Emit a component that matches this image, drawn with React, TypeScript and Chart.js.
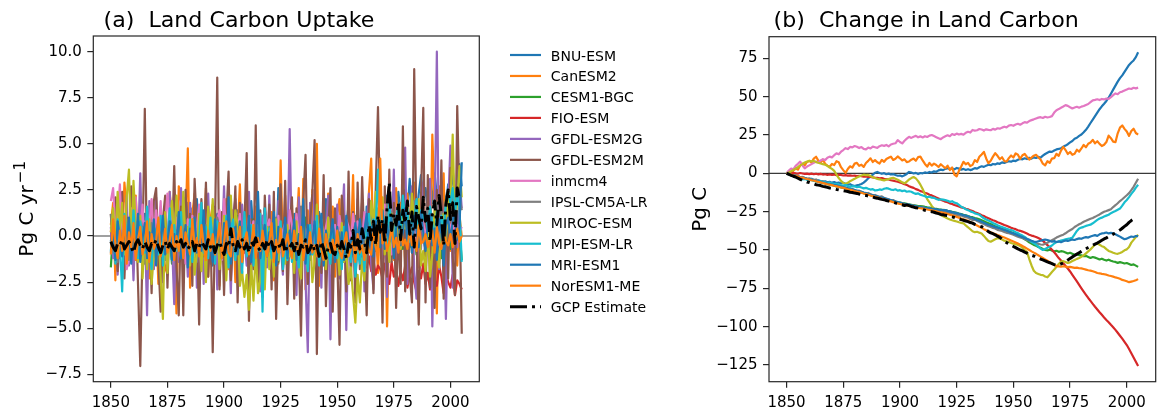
import React, { useEffect, useRef } from "react";
import { Chart, registerables } from "chart.js";

Chart.register(...registerables);

const FONT = '"DejaVu Sans", sans-serif';
const START_YEAR = 1850;

const MODEL_NAMES = [
  "BNU-ESM", "CanESM2", "CESM1-BGC", "FIO-ESM", "GFDL-ESM2G", "GFDL-ESM2M", "inmcm4",
  "IPSL-CM5A-LR", "MIROC-ESM", "MPI-ESM-LR", "MRI-ESM1", "NorESM1-ME", "GCP Estimate",
];
const COLORS = [
  "#1f77b4", "#ff7f0e", "#2ca02c", "#d62728", "#9467bd", "#8c564b", "#e377c2",
  "#7f7f7f", "#bcbd22", "#17becf", "#1f77b4", "#ff7f0e", "#000000",
];

const X_TICKS = [1850, 1875, 1900, 1925, 1950, 1975, 2000];
const UPTAKE_TICKS = [-7.5, -5, -2.5, 0, 2.5, 5, 7.5, 10];
const CHANGE_TICKS = [-125, -100, -75, -50, -25, 0, 25, 50, 75];

// ---------- Panel (a): Land carbon uptake (Pg C / yr), annual from 1850 ----------
const UPTAKE_BNU_ESM = [
  -0.3, 0.8, -1.2, 0.4, -0.6, 1.1, -0.9, -0.2, -1.4, 0.5,
  0.9, -1.3, -0.1, 0.6, -1.0, 1.2, -0.7, 0.3, -1.5, 0.2,
  -0.8, 0.6, -0.9, -1.1, 0.4, -0.5, 0.9, -1.3, -0.9, 0.1,
  1.4, -0.3, 2.1, 0.6, 1.8, -0.2, 1.5, 0.9, 2.0, -0.4,
  0.3, -1.2, 1.0, -0.5, 0.8, -1.6, 0.4, 1.2, -0.9, 0.1,
  -1.1, 1.6, -0.3, 0.9, -0.6, 0.2, 1.4, -1.3, 0.5, -0.2,
  0.8, -0.9, 1.9, 0.1, -1.0, 1.3, -0.4, 0.6, 1.5, -0.3,
  1.1, -0.7, 0.5, -1.2, 2.6, 0.3, -0.8, 0.9, -1.4, 0.4,
  -0.5, 1.2, -1.1, 0.7, 1.6, -0.8, 0.2, 1.0, -1.3, 1.9,
  0.6, -0.4, 1.3, 0.1, -0.9, 2.0, 0.5, -0.6, 0.9, 1.4,
  -0.2, 0.8, 1.5, -1.0, 0.4, 1.7, -0.5, 0.3, 1.1, -0.8,
  0.9, 0.2, -1.1, 1.6, 0.7, 1.9, -0.3, 1.2, 0.5, 0.8,
  1.4, 0.3, 2.2, -0.4, 1.0, 1.8, 0.6, 2.4, 1.1, 1.7,
  2.5, 1.2, 3.1, 1.6, 2.8, 0.9, 2.3, 3.3, 1.9, 2.6,
  1.5, 2.9, 1.8, 3.4, 2.2, 1.3, 3.0, 2.5, 1.7, 2.8,
  2.1, 3.6, 2.0, 2.9, 3.9, 2.7,
];
const UPTAKE_CANESM2 = [
  0.6, 1.8, -2.4, 2.1, 0.9, -0.7, 2.9, 1.4, -1.1, 1.6,
  0.4, 2.2, -0.5, 1.3, -1.8, -0.9, 0.7, -2.3, 1.1, -1.2,
  0.8, -2.6, 1.5, -0.9, -1.7, -2.1, 2.4, 1.0, -0.6, -4.2,
  2.7, 1.9, -1.3, 0.6, 4.75, -2.8, 1.2, 2.3, -1.9, -0.4,
  1.5, -0.8, 2.6, -2.2, 0.9, 1.7, -1.5, 0.3, -2.7, 1.1,
  -0.6, 2.0, -1.8, 0.7, 1.4, -2.5, 0.2, 2.8, -1.2, -0.3,
  1.9, -2.9, 0.5, -0.9, 1.6, -1.4, 0.8, -0.2, -1.7, 0.4,
  -0.9, 1.3, -2.4, 0.6, -1.5, 4.1, -0.8, 2.2, -1.9, 0.5,
  1.7, -1.2, 0.3, 2.6, -2.0, 3.1, -2.9, 1.4, -0.7, 2.5,
  -1.6, 5.0, -2.7, 1.1, -0.4, -1.9, 2.3, -0.8, 1.6, -2.2,
  1.2, 2.0, -1.3, 0.4, -2.1, 1.5, -0.6, 3.3, -1.8, 0.7,
  -0.3, 1.9, -2.5, -0.9, 2.4, 4.2, -1.1, 0.6, -2.0, 1.3,
  -0.5, 2.1, -4.9, 1.4, 0.2, -1.3, 2.6, -0.7, 1.8, 0.9,
  -1.4, 2.3, 0.5, -0.9, 2.9, 1.2, -1.7, 1.0, 2.4, -0.8,
  0.6, -1.5, 5.5, 1.8, -4.2, 2.7, 0.3, 3.4, -2.1, 1.9,
  -0.8, 2.2, 0.4, -1.6, 1.1, 0.0,
];
const UPTAKE_CESM1_BGC = [
  -1.7, 0.3, -0.9, 0.6, -1.2, -0.1, 0.8, -1.0, -0.4, 0.2,
  -0.8, 0.9, -1.3, -0.2, 0.4, -1.1, 0.7, -0.6, -1.4, 0.3,
  0.5, -0.9, -0.3, -1.2, 0.8, -0.7, 0.1, -1.5, 0.4, -0.5,
  -0.2, 1.0, -1.1, -0.4, 0.6, -1.3, -0.1, 0.9, -0.8, -0.6,
  0.7, -1.4, 0.2, -0.5, -1.0, 0.8, -0.3, -1.2, 0.5, -0.7,
  -0.4, 0.6, -1.5, 0.1, -0.8, -0.2, 1.1, -1.0, -0.6, 0.3,
  -1.2, 0.4, -0.7, 0.9, -1.3, -0.1, 0.5, -0.9, -0.4, 0.2,
  -0.6, -1.1, 0.8, -0.3, -1.4, 0.6, -0.5, 0.2, -1.0, -0.2,
  0.9, -0.8, -0.4, -1.2, 0.3, -0.6, 1.0, -1.5, -0.1, -0.7,
  -0.3, 0.5, -1.1, -0.8, 0.7, -1.3, -0.2, 0.4, -0.9, -0.5,
  -1.0, 0.2, -0.6, -1.4, 0.6, -0.3, -1.2, 0.1, -0.7, -0.9,
  0.4, -1.1, -0.5, -1.3, 0.8, -0.4, 0.3, -0.8, 0.2, -0.6,
  -0.2, 0.5, -0.9, 0.7, -0.4, -1.1, 0.6, -0.3, 0.2, -0.7,
  -0.5, 0.8, -0.6, -0.2, 0.4, -1.0, 0.3, -0.4, 0.1, -0.8,
  0.6, -0.3, -0.9, 0.2, -0.5, 0.7, -1.2, 0.3, -0.6, 0.4,
  -0.7, 0.5, -0.9, -0.2, 0.3, -1.3,
];
const UPTAKE_FIO_ESM = [
  0.3, -0.6, 0.8, -0.2, 0.5, -0.9, 0.4, 0.1, -0.5, 0.2,
  -0.3, 0.7, -0.8, 0.4, 0.0, -0.6, 0.9, -0.4, 0.2, -0.5,
  0.6, -0.2, -0.7, 0.3, 0.5, -0.9, 0.1, 0.4, -0.6, 0.2,
  -0.4, 0.5, -0.8, 0.2, -0.3, 0.6, -0.9, 0.1, -0.2, -0.7,
  -0.5, -1.1, 0.2, -0.8, -0.3, -1.2, 0.1, -0.6, -0.9, -0.4,
  -1.0, -0.2, -1.3, -0.5, -0.8, 0.0, -1.1, -0.6, -0.4, -0.9,
  -0.3, -1.2, -0.7, -0.1, -1.0, -0.6, -0.9, -0.2, -1.3, -0.5,
  -0.8, -0.1, -1.1, -0.4, -0.7, -0.2, -0.9, -0.6, -0.3, -1.0,
  -0.5, -0.9, -0.2, -1.2, -0.6, -0.4, -1.0, -0.3, -0.8, -0.7,
  -0.4, -1.1, -0.6, -0.2, -0.9, -0.5, -0.7, -0.3, -1.0, -0.6,
  -0.8, -0.3, -0.6, -0.9, -0.2, -0.7, -0.5, -1.1, -0.4, -0.6,
  -0.9, -1.4, -0.8, -1.7, -1.1, -1.9, -1.3, -2.1, -1.6, -1.8,
  -2.3, -1.5, -2.0, -2.6, -1.4, -2.2, -1.8, -2.7, -1.9, -2.4,
  -1.6, -2.8, -2.1, -1.7, -2.5, -3.0, -1.9, -2.3, -1.5, -2.6,
  -2.0, -2.9, -1.8, -2.4, -2.7, -1.6, -2.2, -3.1, -2.0, -2.5,
  -2.8, -2.1, -3.2, -2.4, -2.6, -2.9,
];
const UPTAKE_GFDL_ESM2G = [
  0.5, -1.2, 1.8, -2.1, 0.3, 1.4, -0.8, 2.2, -1.6, 0.9,
  -2.4, 1.1, -0.5, 3.4, -1.3, 0.8, -4.3, 1.9, -0.2, -1.8,
  2.1, -0.9, 0.6, -2.5, 1.5, -1.1, 2.4, -0.3, -3.7, 1.2,
  -1.4, 2.6, -0.7, 0.4, -2.2, 1.8, -1.0, 2.0, -2.8, 0.7,
  1.3, -2.6, 0.2, 2.3, -1.5, -0.4, 1.6, -2.9, 0.9, -1.1,
  2.7, -1.8, 0.5, -3.1, 1.2, 2.0, -0.6, -2.3, 1.7, -0.2,
  -1.6, 2.4, -2.0, 0.8, -0.9, 1.5, -3.0, 1.1, 0.3, -1.7,
  2.2, -1.3, 0.4, -2.6, 1.9, -0.5, -2.1, 1.4, -0.8, 5.8,
  -1.2, 0.6, -3.2, 2.1, -0.7, 1.3, -2.4, -6.3, 1.8, -0.9,
  2.5, -1.9, 0.7, -2.8, 1.6, -0.3, 2.2, -5.6, 0.9, -1.4,
  1.7, -2.3, 0.5, 2.8, -5.1, 1.2, -1.6, 0.4, -2.7, 2.0,
  -0.8, 1.9, -3.0, 0.6, 2.3, -1.5, -2.9, 1.4, -0.4, 2.6,
  -1.7, 0.8, -3.3, 1.5, -0.6, 3.6, -2.4, 1.1, -1.0, 2.2,
  4.8, -2.6, 0.3, 2.7, -1.9, -3.4, 1.6, -0.7, 2.9, -2.2,
  1.0, 3.1, -4.9, 0.5, 10.0, -1.8, 2.4, 0.8, -4.5, 1.7,
  4.9, -2.8, 1.3, -0.6, 3.2, 1.5,
];
const UPTAKE_GFDL_ESM2M = [
  1.2, -0.8, 2.1, -1.9, 0.6, 2.4, -2.3, 1.0, -1.2, 2.7,
  -0.4, 1.8, -2.6, -7.05, -0.5, 6.9, -1.5, 0.7, -3.1, 1.9,
  2.6, -1.3, -4.1, 0.9, 2.2, -2.8, 1.4, -0.6, 3.8, -1.7,
  -4.3, 1.6, -4.3, 2.5, -0.9, 1.2, -2.7, 3.1, 0.4, -4.8,
  2.0, -1.1, 2.9, -2.2, 0.8, -6.3, 0.5, 8.6, -2.9, 1.3,
  -3.2, 1.0, 3.5, -2.4, -0.3, 2.7, -3.6, 1.8, -1.5, 0.6,
  4.5, -4.6, 0.9, -1.8, 6.0, -2.5, 1.4, -3.3, 2.2, -0.7,
  1.7, -2.9, 2.4, -4.5, 0.3, 2.8, -1.9, 3.0, -3.7, 0.6,
  2.1, -3.4, 1.5, -1.0, -5.4, 1.9, 4.4, -2.6, 0.8, 2.3,
  5.2, -6.4, 1.1, -2.0, 3.3, -3.8, 0.4, 2.6, -4.1, 1.5,
  -1.2, -5.9, 2.2, 0.7, -3.0, 3.5, -2.4, 1.3, -3.6, 2.9,
  -1.8, 3.2, -0.6, -4.3, 2.0, 0.9, -3.1, 2.5, 7.0, 1.0,
  -4.7, 2.7, -2.2, 3.6, -1.4, 1.8, -3.9, 0.5, -2.6, 5.95,
  -3.0, 1.4, -2.1, -3.6, 9.05, 0.2, -4.8, 2.1, 6.95, -3.6,
  3.3, -2.8, 1.2, -3.9, 2.5, -1.6, 4.1, -3.4, 2.0, -2.3,
  3.7, -1.1, -3.2, 7.05, 1.8, -5.3,
];
const UPTAKE_INMCM4 = [
  1.9, 2.6, 0.4, 1.1, 2.8, -0.6, 0.9, -1.8, -1.2, 1.5,
  0.8, 2.1, -0.5, 0.3, 1.7, -0.9, 1.2, 0.6, 2.0, -0.3,
  1.4, 0.2, 1.9, -1.1, 0.7, 2.3, 0.5, 1.6, -0.4, 1.0,
  0.6, -0.8, 1.3, -1.5, 0.9, -0.2, 1.1, -0.6, 0.4, 1.7,
  -0.3, 0.8, -1.0, 1.5, 0.2, 1.2, -0.7, 0.9, 1.4, -1.3,
  2.0, 0.1, 1.6, -0.8, 0.5, -0.4, 0.3, 1.2, -0.9, 0.7,
  -0.5, 1.0, 0.2, 0.8, -1.1, 0.6, -0.7, -0.9, 1.3, 0.4,
  0.9, -0.6, 0.5, -0.2, 1.1, -0.8, 0.3, 0.7, -1.0, 1.4,
  0.6, -0.4, 1.2, 0.1, -0.5, 0.9, -0.3, 0.4, -0.8, 0.2,
  0.7, -0.9, 0.3, 0.8, -0.2, 0.5, 1.0, -0.6, 0.4, 0.6,
  -0.4, 1.1, 0.2, -0.7, 0.9, 0.5, -0.3, 1.2, 0.1, 0.8,
  0.4, -0.5, 1.3, 0.6, -0.2, 0.3, -0.8, 1.5, 2.4, 1.0,
  0.9, 1.7, -0.4, 0.5, -1.0, 0.8, 1.2, 0.3, -0.6, 1.4,
  0.7, 1.6, 0.2, 1.1, 0.9, -0.3, 1.3, 0.4, 0.8, -0.2,
  1.0, 0.5, 0.9, 0.7, 1.2, -0.5, 1.1, 0.6, 0.3, 0.9,
  0.4, 0.8, -0.3, 0.6, 0.2, 0.5,
];
const UPTAKE_IPSL_CM5A_LR = [
  1.2, -0.9, 0.3, -1.4, 0.6, -0.7, -0.2, 0.9, -1.3, 0.1,
  -0.6, 0.8, -1.1, -0.3, 0.5, -1.5, 0.2, -0.8, 0.7, -0.4,
  -1.0, 0.4, -0.6, 1.1, -1.3, -0.2, 0.6, -0.9, -0.5, 0.3,
  -0.7, -1.2, 0.9, -0.4, 0.2, -1.0, 0.5, -0.3, -1.4, 0.8,
  -0.2, -0.8, 0.6, -1.1, 0.1, -0.5, -0.9, 1.0, -0.6, -0.3,
  0.4, -1.3, -0.1, 0.7, -0.8, -0.4, 0.2, -1.2, 0.5, -0.6,
  -0.9, 0.3, -0.5, -1.1, 0.8, -0.3, -0.7, 0.6, -1.0, -0.2,
  0.5, -0.8, -0.4, 1.0, -1.2, -0.1, -0.6, 0.3, -0.9, -0.5,
  -0.3, 0.7, -1.3, -0.2, -0.6, 0.4, -1.0, -0.4, 0.6, -0.8,
  -0.5, -0.9, 0.2, -0.7, -0.3, -1.1, 0.5, -0.6, -0.2, -0.8,
  0.1, -0.7, -1.0, -0.3, 0.4, -0.9, -0.5, -0.2, -0.8, 0.3,
  -0.6, -0.4, -0.1, 0.9, 0.3, 1.2, 0.6, -0.2, 1.5, 0.8,
  1.0, 0.4, 1.7, 0.2, 1.3, 0.9, -0.3, 1.6, 0.7, 1.1,
  0.5, 1.4, 0.8, -0.1, 1.9, 0.6, 1.0, 0.3, 1.2, 0.9,
  1.5, 0.2, 1.1, 0.7, 1.8, 0.4, 1.3, 0.9, 1.6, 1.0,
  2.3, 0.8, 1.7, 2.5, 2.1, 1.4,
];
const UPTAKE_MIROC_ESM = [
  0.2, 1.5, -0.6, 2.4, 0.3, 1.8, -1.0, 2.1, 3.6, -0.9,
  3.0, 0.5, -1.4, 1.1, -2.3, 0.4, -1.8, 0.9, -2.6, -0.7,
  -1.5, 0.6, -2.2, -4.5, 1.3, -2.0, 0.8, 1.9, -0.4, 2.2,
  0.7, -1.1, 2.4, -0.3, 0.5, -1.6, 0.9, -2.1, -0.8, 1.2,
  -1.9, 0.4, -2.5, 1.6, -0.2, 2.0, -1.3, 0.7, -1.8, -0.6,
  1.1, -2.4, 0.3, 2.2, -0.5, 1.4, 0.6, -2.7, -1.9, -3.3,
  -2.1, -4.0, -1.6, -3.5, -0.8, -3.1, -2.4, -0.6, -2.9, 0.5,
  -1.8, -0.4, -2.2, 0.9, -1.3, 0.2, -0.9, -1.5, 0.6, -1.1,
  -0.3, -2.0, 0.8, -1.6, -2.3, 1.2, -0.7, -1.9, 0.4, -2.5,
  -1.4, 1.7, -0.6, 0.9, -0.2, -1.8, 1.0, -0.8, 0.3, -1.2,
  -0.5, -2.1, 0.7, -1.4, -0.9, -2.6, -1.7, -3.2, -4.7, -2.1,
  -3.6, -1.2, -2.4, 0.3, -0.8, 1.9, 0.8, 2.4, -0.3, 1.6,
  2.1, -1.0, 0.6, -1.4, 1.2, -0.5, 0.9, 0.3, -0.7, 1.5,
  0.4, 1.8, -0.2, 2.3, 0.7, 1.1, 2.0, -1.6, -0.8, -1.9,
  0.5, -2.2, -1.0, 1.4, -0.6, -1.7, 0.8, 1.2, -0.3, 2.0,
  1.5, 5.5, 0.6, 1.9, 3.8, 2.1,
];
const UPTAKE_MPI_ESM_LR = [
  -0.8, 0.6, -1.5, 0.9, -0.4, -3.0, 1.2, -0.2, 0.7, -1.1,
  1.4, -0.5, -1.2, 0.8, 0.1, -0.9, 1.6, -0.7, -1.8, 0.5,
  0.2, -1.0, 1.1, -1.6, 0.4, -0.3, 1.5, -1.3, 0.6, -0.8,
  -0.4, 1.3, -1.1, 0.3, -0.6, 0.9, -1.4, 0.1, -0.7, -0.2,
  1.8, -0.9, 0.5, -1.2, 1.0, -0.3, -1.5, 0.8, 0.2, -1.0,
  -0.6, 1.1, -1.7, 0.4, 0.9, -1.3, -0.2, 0.7, -2.0, 1.3,
  -1.1, -0.4, 0.6, -1.6, 0.3, -0.8, 1.2, -4.1, 1.5, -0.7,
  0.4, -1.2, 0.9, -1.5, -0.3, 0.8, -1.8, -0.6, -1.3, 0.2,
  -1.4, 0.5, -0.9, -1.7, 0.3, -1.2, -0.5, -1.9, 0.6, -1.0,
  -0.7, 1.1, -1.6, -0.4, -1.3, 0.2, -0.8, -1.5, 0.7, -0.9,
  -1.2, -0.3, -1.8, 0.5, -1.1, -0.6, -1.4, 0.3, -2.2, -0.8,
  -1.5, -0.4, -1.9, 0.6, 1.2, -0.3, 0.9, 0.4, 3.6, -0.2,
  1.3, 0.5, -0.6, 1.8, 0.2, -0.9, 1.0, 1.7, 0.4, 2.2,
  0.8, 1.5, -0.3, 1.1, 0.6, 2.0, -0.5, 1.4, 0.9, 1.2,
  0.3, 1.6, 0.7, -0.2, 1.3, 0.5, 1.1, 0.2, 1.9, 2.4,
  1.8, 2.6, 1.2, 2.3, 1.5, -1.4,
];
const UPTAKE_MRI_ESM1 = [
  -0.9, 0.4, -1.3, 0.8, -0.2, -1.1, 0.6, -0.7, 1.0, -1.5,
  0.3, -0.8, 1.2, -1.4, -0.1, 0.7, -1.2, 0.2, -0.6, 0.9,
  -1.6, 0.5, -0.3, 1.1, -1.0, -0.4, 0.8, -1.3, 0.1, -0.6,
  1.3, -1.2, -0.5, 0.6, -1.7, 0.4, -0.2, 1.0, -0.9, -0.3,
  -0.8, 1.4, -1.1, 0.2, -0.6, -1.4, 0.9, -0.5, 0.3, -1.2,
  0.7, -0.9, 2.1, -1.5, -0.3, 0.5, -1.0, 0.8, -1.3, -0.1,
  -0.6, 1.1, -1.4, 0.4, -0.8, 2.4, -1.2, -0.3, 0.6, -1.1,
  0.2, -0.7, 1.3, -1.6, 0.5, -0.4, -0.9, 1.0, -1.2, 0.3,
  -0.5, 0.9, -1.3, 0.1, -0.8, 2.0, -1.5, 0.6, -1.0, -0.2,
  0.8, -1.1, -0.4, 1.2, -1.6, 0.3, -0.7, -0.1, 0.9, -1.4,
  0.5, -0.9, 0.2, -1.3, 1.1, -0.6, -0.2, -1.0, 0.7, -0.5,
  0.9, -0.4, 0.3, 1.2, -0.8, 0.5, -1.1, 0.8, 0.1, -0.6,
  1.4, -0.7, 0.6, -0.3, 1.0, -1.2, 0.4, 0.9, -0.5, 0.2,
  1.5, -0.4, 0.8, -0.9, 1.1, 0.3, -0.6, 1.3, 0.2, -0.8,
  0.7, 1.2, -0.5, 0.4, -1.3, 0.9, 0.1, -1.6, 0.6, 1.0,
  -0.3, 0.8, 1.4, -0.2, 0.5, 4.0,
];
const UPTAKE_NORESM1_ME = [
  -1.0, 0.9, -0.4, -1.2, 0.3, -0.8, 1.1, -1.5, 0.2, -0.6,
  0.7, -1.3, -0.2, 0.5, -1.0, -0.5, 0.8, -1.4, 0.1, -0.7,
  -0.3, 1.0, -1.1, -0.6, 0.4, -0.9, -0.2, 0.6, -1.3, 0.0,
  -0.8, 0.5, -1.2, 0.2, -0.4, -1.0, 0.9, -0.7, -0.1, -1.1,
  0.6, -0.5, -1.3, 0.3, -0.8, 0.1, -1.0, -0.3, 0.7, -1.2,
  -0.4, 0.8, -0.9, -1.1, 0.4, -0.6, -0.2, 0.5, -1.4, -0.3,
  0.2, -1.0, -0.5, 0.6, -1.2, -0.1, -0.8, 0.3, -0.6, -1.1,
  -0.3, 0.7, -1.4, -0.2, -0.9, 0.4, -1.1, -0.5, 0.1, -0.7,
  -1.2, 0.3, -0.6, -1.0, 0.5, -1.3, -0.4, -0.8, 0.2, -0.9,
  -0.5, -1.1, 0.4, -0.7, -1.3, 0.1, -0.6, -0.9, -0.2, -1.0,
  0.3, -0.8, -1.2, -0.4, 0.2, -1.1, -0.7, -0.3, -1.4, 0.1,
  -0.9, -0.5, -1.3, -0.2, -0.8, -1.0, 0.3, -0.6, -1.1, 4.2,
  -0.4, 0.2, -0.8, -0.3, 0.5, -0.6, -0.1, -0.9, 0.3, -0.5,
  -0.2, -0.7, 0.4, -0.5, -0.1, -0.8, 0.6, -0.4, -0.3, 0.1,
  -0.6, -0.2, 0.3, -0.9, 0.5, -0.4, -0.7, 0.2, -0.3, -0.5,
  0.1, -0.6, -0.2, 0.4, -0.3, 0.0,
];
const UPTAKE_GCP = [
  -0.3, -0.6, -0.8, -0.4, -0.5, -0.2, -0.7, -0.5, -0.3, -0.6,
  -0.9, -0.4, -0.2, -0.5, -0.7, -0.3, -0.6, -0.8, -0.4, -0.5,
  -0.2, -0.6, -0.9, -0.5, -0.3, -0.7, -0.4, -0.6, -0.8, -0.3,
  -0.5, -0.2, -0.6, -0.4, -0.7, -0.5, -0.3, -0.8, -0.4, -0.6,
  -0.3, -0.5, -0.7, -0.2, -0.6, -0.4, -0.9, -0.5, -0.3, -0.7,
  -1.0, -0.4, -0.6, 0.4, -0.5, -0.8, -0.3, -0.6, -0.2, -0.7,
  -0.4, -0.9, -0.3, -0.5, -0.1, -0.6, -0.8, -0.4, -0.7, -0.2,
  -0.6, -0.3, -0.8, -0.5, -0.4, -0.7, -0.2, -0.9, -0.5, -0.6,
  -0.4, -0.8, -0.3, -1.0, -0.5, -0.6, -0.2, -0.9, -0.7, -0.4,
  -0.8, -0.5, -1.1, -0.3, -0.7, -1.2, -0.6, -0.4, -0.9, -1.0,
  -0.5, -0.8, -0.3, -0.7, -1.2, -0.4, -0.6, 0.3, -0.9, -0.2,
  -0.7, 0.4, -0.3, -0.9, 0.6, -0.2, 0.8, -0.5, 1.1, 0.2,
  0.9, -0.4, 1.5, 2.9, 0.3, 1.2, 0.6, 1.8, -0.2, 1.4,
  0.7, 1.9, 0.1, 1.3, -0.6, 1.6, 1.0, 0.4, 2.1, 0.8,
  1.5, -0.3, 1.2, 1.9, 0.6, 2.2, 1.1, -0.5, 1.7, 2.5,
  0.9, 1.8, -0.4, 2.6, 2.0,
];

// ---------- Panel (b): Change in land carbon (Pg C), annual from 1850 ----------
const CHANGE_BNU_ESM = [
  0, -0.6, -0.9, -1.5, -1.3, -2.0, -2.6, -2.4, -3.1, -3.8,
  -4.0, -3.6, -4.4, -4.9, -4.6, -5.0, -5.5, -5.2, -5.9, -5.6,
  -6.1, -5.7, -6.3, -6.0, -6.6, -6.2, -6.9, -7.4, -7.1, -7.9,
  -8.3, -7.8, -7.5, -7.0, -6.1, -4.8, -3.2, -2.1, -0.9, 0.4,
  0.9, 0.2, -0.3, 0.1, -0.6, -0.2, -0.8, -0.5, -1.1, -1.6,
  -1.4, -2.0, -1.2, -0.4, 0.9, 0.5, -0.1, 0.3, -0.5, 0.2,
  0.0, 0.6, 0.2, 0.9, 0.5, 1.3, 1.0, 1.9, 2.4, 2.1,
  2.9, 3.4, 2.8, 3.2, 2.6, 3.5, 3.1, 2.4, 2.9, 2.2,
  2.7, 2.1, 2.6, 3.4, 3.1, 4.0, 4.6, 4.2, 5.0, 5.6,
  5.3, 6.1, 5.8, 6.5, 6.2, 7.1, 6.8, 7.4, 7.9, 7.6,
  8.3, 8.0, 8.8, 9.4, 9.1, 9.8, 9.3, 10.1, 9.6, 10.4,
  10.0, 10.7, 10.2, 11.5, 12.6, 13.4, 14.2, 14.0, 14.9, 15.6,
  15.9, 16.4, 17.3, 18.1, 19.0, 20.2, 21.1, 22.5, 23.2, 24.4,
  25.3, 26.8, 28.4, 30.5, 32.8, 35.0, 37.3, 39.6, 41.8, 43.7,
  45.4, 47.2, 49.3, 51.9, 54.6, 57.2, 59.8, 62.1, 63.9, 66.2,
  68.4, 70.7, 72.3, 73.6, 75.8, 79.0,
];
const CHANGE_CANESM2 = [
  0, 0.8, -0.5, 1.9, 3.2, 2.4, 5.1, 6.3, 5.2, 7.4,
  8.1, 7.0, 9.6, 10.8, 8.3, 7.1, 8.9, 6.2, 5.0, 4.3,
  6.1, 5.4, 7.9, 7.2, 4.0, 2.1, 0.3, 2.8, 4.6, 3.7,
  6.3, 6.8, 4.9, 5.6, 4.2, 6.7, 8.1, 9.8, 7.4, 8.6,
  7.2, 6.4, 8.8, 7.5, 9.3, 10.1, 10.9, 8.7, 9.5, 11.0,
  9.8, 8.4, 9.1, 7.3, 7.7, 8.9, 9.6, 8.2, 10.6, 10.9,
  8.4, 6.1, 4.4, 6.8, 5.0, 6.3, 5.4, 4.1, 5.9, 4.6,
  3.3, 5.0, 2.1, 3.8, -0.8, -2.0, 1.6, 4.4, 7.5, 5.9,
  6.8, 4.7, 5.5, 8.6, 7.4, 10.8, 12.3, 14.0, 9.7, 6.6,
  8.2, 10.9, 13.1, 11.4, 9.2, 10.5, 8.0, 7.7, 9.9, 11.6,
  10.3, 13.0, 12.1, 9.4, 11.8, 12.6, 10.7, 8.9, 10.2, 11.5,
  12.1, 10.4, 9.0, 6.3, 5.2, 7.9, 6.8, 9.6, 9.9, 12.7,
  11.4, 14.8, 17.3, 15.2, 12.6, 13.9, 12.1, 12.8, 15.4, 14.1,
  16.2, 18.5, 17.0, 19.3, 20.1, 21.8, 19.6, 20.9, 19.2, 17.8,
  18.6, 20.4, 24.6, 22.9, 20.7, 20.3, 26.1, 29.8, 31.2, 29.0,
  27.3, 24.4, 27.6, 29.1, 26.3, 25.2,
];
const CHANGE_CESM1_BGC = [
  0, -0.5, -0.8, -1.3, -1.6, -2.2, -2.5, -2.9, -3.3, -3.8,
  -4.0, -4.4, -4.7, -5.3, -5.5, -5.9, -6.4, -6.6, -7.1, -7.4,
  -7.7, -8.0, -8.5, -8.7, -9.2, -9.5, -9.9, -10.3, -10.6, -11.1,
  -11.4, -11.8, -12.3, -12.5, -13.0, -13.4, -13.8, -14.2, -14.6, -15.0,
  -15.3, -15.8, -16.1, -16.5, -17.0, -17.2, -17.7, -18.0, -18.4, -18.7,
  -19.0, -19.4, -19.6, -19.9, -20.3, -20.5, -20.8, -21.0, -21.3, -21.4,
  -21.5, -21.9, -22.2, -22.4, -22.7, -23.0, -23.2, -23.5, -23.7, -23.9,
  -24.0, -24.4, -24.7, -25.1, -25.4, -25.8, -26.2, -26.5, -27.0, -27.4,
  -27.9, -28.3, -28.6, -29.1, -29.5, -30.0, -30.6, -31.2, -31.9, -32.5,
  -33.1, -33.8, -34.5, -35.1, -35.6, -36.2, -36.8, -37.3, -38.0, -38.4,
  -39.0, -39.8, -40.5, -41.4, -42.1, -43.0, -43.9, -45.0, -45.8, -46.7,
  -47.3, -48.0, -48.6, -49.4, -50.0, -50.3, -49.8, -50.4, -50.9, -50.5,
  -51.2, -50.8, -51.0, -51.6, -52.3, -51.8, -52.5, -53.1, -52.7, -53.4,
  -53.5, -54.1, -53.8, -54.5, -55.2, -54.6, -55.0, -55.5, -56.2, -55.7,
  -56.4, -56.9, -56.3, -57.0, -57.5, -57.8, -58.4, -57.9, -58.3, -58.8,
  -58.5, -59.1, -59.8, -59.4, -60.2, -61.0,
];
const CHANGE_FIO_ESM = [
  0, 0.3, 0.1, 0.4, 0.0, -0.3, 0.2, -0.1, -0.4, -0.2,
  -0.5, -0.2, -0.6, -0.3, -0.7, -0.4, -0.8, -0.6, -1.0, -0.7,
  -1.0, -0.8, -1.2, -0.9, -1.1, -1.4, -1.2, -1.5, -1.3, -1.6,
  -1.5, -1.8, -1.6, -1.9, -2.2, -2.0, -2.4, -2.3, -2.7, -2.9,
  -3.0, -3.3, -3.1, -3.6, -3.8, -4.0, -4.5, -4.8, -5.2, -5.5,
  -6.0, -6.4, -7.1, -7.5, -8.4, -9.0, -9.5, -10.3, -10.8, -11.6,
  -12.0, -12.7, -13.2, -14.0, -14.4, -15.1, -15.8, -16.4, -17.2, -17.8,
  -18.5, -18.9, -19.6, -20.0, -20.7, -21.1, -21.6, -22.2, -22.5, -23.1,
  -23.5, -24.2, -24.6, -25.4, -25.9, -26.5, -27.3, -27.8, -28.7, -29.3,
  -30.0, -30.6, -31.1, -31.9, -32.4, -33.0, -33.7, -34.2, -34.8, -35.5,
  -36.0, -36.4, -37.1, -37.5, -38.0, -38.6, -39.3, -40.0, -40.6, -41.0,
  -41.5, -42.2, -43.0, -44.1, -45.4, -46.8, -48.2, -49.8, -51.5, -53.3,
  -55.3, -56.9, -58.6, -60.4, -62.1, -64.0, -66.2, -68.3, -70.5, -72.8,
  -75.0, -77.1, -79.2, -81.3, -83.2, -85.1, -87.0, -88.8, -90.6, -92.3,
  -94.0, -95.6, -97.1, -98.8, -100.4, -102.1, -104.0, -105.9, -107.8, -109.9,
  -112.0, -114.6, -117.3, -120.1, -122.9, -125.6,
];
const CHANGE_INMCM4 = [
  0, 1.8, 3.1, 2.6, 4.9, 6.2, 7.6, 5.1, 3.3, 4.4,
  5.2, 6.0, 6.8, 7.7, 7.1, 8.4, 9.2, 8.6, 10.1, 10.9,
  10.4, 11.8, 13.0, 12.4, 14.1, 15.2, 16.4, 15.8, 17.2, 16.9,
  17.8, 17.3, 16.5, 17.1, 15.9, 15.6, 16.8, 16.2, 17.4, 17.0,
  16.6, 17.7, 18.3, 17.9, 18.5, 17.6, 18.8, 19.3, 19.6, 21.7,
  20.4, 19.5, 21.2, 22.6, 23.8, 23.1, 23.9, 24.4, 23.5, 24.1,
  23.4, 24.2, 23.7, 24.6, 25.0, 24.3, 23.6, 22.9, 22.3, 23.4,
  24.1, 24.8, 24.2, 25.6, 25.0, 25.9, 25.3, 25.7, 25.2, 26.4,
  27.1, 26.6, 28.3, 27.8, 28.1, 28.9, 28.6, 27.9, 28.7, 28.3,
  28.1, 29.0, 28.5, 29.4, 29.1, 29.8, 30.4, 30.0, 31.1, 31.5,
  31.0, 31.8, 32.3, 31.7, 32.6, 33.4, 33.0, 34.1, 34.7, 35.2,
  35.8, 36.3, 36.6, 36.1, 36.9, 36.4, 36.7, 37.3, 39.6, 41.2,
  41.9, 42.8, 43.6, 44.5, 44.0, 43.1, 42.3, 42.9, 43.4, 42.8,
  43.5, 43.9, 44.6, 45.2, 46.4, 47.6, 47.9, 48.3, 47.8, 48.5,
  48.2, 48.8, 48.5, 49.7, 51.0, 52.1, 51.6, 52.9, 53.3, 54.0,
  54.6, 55.3, 55.0, 55.8, 55.4, 55.9,
];
const CHANGE_IPSL_CM5A_LR = [
  0, -0.2, -0.9, -1.4, -1.1, -2.0, -2.6, -2.3, -3.1, -3.4,
  -3.2, -3.9, -4.3, -4.0, -4.8, -5.4, -5.1, -5.9, -6.3, -6.0,
  -6.8, -7.2, -7.0, -7.8, -8.6, -9.5, -9.1, -9.9, -10.6, -10.2,
  -10.9, -11.8, -11.3, -12.0, -12.7, -13.2, -12.8, -13.6, -14.5, -14.1,
  -14.8, -15.4, -15.0, -16.1, -16.5, -16.9, -17.8, -17.4, -18.3, -19.1,
  -20.0, -19.6, -20.4, -20.0, -20.8, -21.3, -20.9, -21.5, -22.2, -21.8,
  -22.0, -22.7, -23.1, -22.9, -23.6, -24.2, -23.8, -24.4, -25.0, -24.7,
  -25.0, -25.6, -26.1, -25.8, -26.7, -27.1, -27.6, -27.4, -28.2, -28.6,
  -29.0, -29.8, -30.5, -30.2, -31.1, -31.8, -32.6, -33.1, -33.8, -34.5,
  -35.0, -35.6, -36.0, -36.9, -37.3, -37.6, -38.2, -38.8, -39.1, -39.6,
  -40.0, -40.7, -41.3, -41.8, -42.2, -42.9, -43.5, -44.0, -44.8, -45.3,
  -45.7, -46.0, -46.4, -46.6, -46.0, -45.3, -44.4, -43.6, -42.8, -41.9,
  -41.2, -40.6, -40.0, -39.1, -38.0, -37.1, -36.3, -35.0, -34.1, -33.2,
  -32.5, -31.6, -31.0, -30.3, -29.6, -29.1, -28.4, -27.6, -26.8, -25.9,
  -25.1, -24.6, -24.0, -23.4, -22.0, -20.8, -19.5, -18.1, -16.9, -15.6,
  -14.3, -12.9, -11.0, -8.8, -6.2, -3.5,
];
const CHANGE_MIROC_ESM = [
  0, 0.6, 1.3, 2.2, 3.0, 4.1, 5.2, 6.0, 7.1, 7.6,
  8.2, 7.8, 8.1, 7.3, 6.9, 6.4, 6.0, 5.6, 4.9, 3.8,
  2.9, 1.6, -0.8, -3.1, -4.9, -6.3, -6.8, -6.2, -5.1, -4.4,
  -3.6, -2.7, -2.0, -1.4, -0.9, -1.2, -1.0, -1.8, -2.5, -3.1,
  -3.6, -3.9, -4.3, -4.6, -4.1, -3.8, -3.3, -2.9, -3.6, -4.2,
  -5.0, -5.9, -6.5, -5.4, -4.0, -3.1, -2.4, -3.3, -5.1, -7.4,
  -10.2, -13.6, -16.8, -19.0, -21.2, -23.1, -24.9, -26.3, -27.2, -28.0,
  -28.7, -29.5, -30.1, -30.6, -31.0, -31.4, -31.9, -32.3, -32.6, -34.0,
  -35.2, -36.5, -37.8, -38.4, -38.1, -38.7, -39.2, -40.8, -42.6, -44.1,
  -44.6, -43.8, -43.0, -42.4, -42.5, -43.2, -43.9, -44.3, -44.6, -45.4,
  -45.9, -46.3, -46.8, -47.4, -48.5, -50.1, -51.2, -55.9, -60.1, -63.5,
  -65.0, -65.6, -66.2, -66.4, -67.3, -67.8, -66.1, -64.4, -62.8, -60.9,
  -59.1, -57.6, -57.3, -57.9, -58.4, -58.1, -57.2, -56.5, -55.8, -55.2,
  -54.4, -53.5, -52.2, -50.9, -49.6, -48.1, -46.5, -45.8, -46.6, -47.5,
  -48.1, -49.4, -50.6, -51.2, -51.8, -52.3, -52.5, -52.0, -51.3, -50.2,
  -49.6, -48.0, -45.2, -43.4, -41.6, -40.0,
];
const CHANGE_MPI_ESM_LR = [
  0, -0.7, -1.2, -1.9, -2.4, -3.0, -3.3, -3.9, -3.6, -4.2,
  -4.5, -4.1, -4.8, -5.3, -4.9, -5.0, -5.6, -5.9, -6.4, -6.1,
  -6.5, -7.1, -6.8, -7.4, -7.9, -8.0, -7.6, -8.3, -8.9, -8.4,
  -8.5, -9.1, -8.7, -9.3, -9.8, -9.5, -10.1, -10.6, -10.3, -11.2,
  -11.0, -10.5, -10.8, -10.1, -9.7, -10.0, -10.6, -10.9, -10.4, -11.3,
  -11.0, -11.6, -11.2, -12.0, -11.7, -12.0, -12.8, -13.4, -13.1, -14.0,
  -14.5, -14.9, -15.6, -15.2, -15.9, -16.0, -16.7, -17.3, -16.9, -17.2,
  -17.5, -17.9, -18.6, -18.2, -19.1, -19.5, -20.6, -21.8, -22.5, -23.4,
  -24.0, -24.8, -25.3, -26.1, -26.5, -27.0, -28.2, -29.3, -30.1, -30.8,
  -31.5, -32.4, -33.0, -33.8, -34.5, -35.0, -35.6, -36.1, -36.7, -37.0,
  -37.5, -38.4, -39.0, -39.9, -40.6, -41.5, -42.6, -43.4, -44.7, -45.6,
  -46.5, -47.8, -49.1, -50.0, -49.4, -48.6, -47.9, -47.1, -45.8, -44.9,
  -44.3, -43.9, -43.5, -43.1, -42.7, -42.4, -42.0, -39.8, -37.6, -36.0,
  -35.4, -34.9, -34.3, -33.9, -33.5, -32.6, -31.5, -30.4, -29.5, -28.9,
  -28.2, -27.6, -27.0, -26.0, -25.3, -24.6, -23.8, -23.0, -21.1, -18.9,
  -17.4, -15.5, -13.4, -11.6, -9.3, -7.5,
];
const CHANGE_MRI_ESM1 = [
  0, -0.4, -1.0, -1.2, -1.7, -2.1, -2.4, -2.9, -3.1, -3.6,
  -3.9, -4.3, -4.5, -5.0, -5.2, -5.6, -6.1, -6.3, -6.8, -7.0,
  -7.3, -7.6, -7.9, -8.3, -8.6, -9.0, -9.4, -9.7, -10.2, -10.5,
  -10.9, -11.3, -11.7, -12.1, -12.6, -12.9, -13.4, -13.8, -14.2, -14.6,
  -15.0, -15.5, -15.9, -16.2, -16.7, -17.1, -17.5, -18.0, -18.4, -18.7,
  -19.0, -19.5, -19.9, -20.2, -20.4, -20.9, -21.2, -21.4, -21.8, -22.0,
  -22.2, -22.5, -22.7, -22.9, -23.1, -23.2, -23.5, -23.7, -23.8, -24.0,
  -24.0, -24.5, -24.8, -25.3, -25.6, -26.0, -26.4, -26.8, -27.3, -27.6,
  -28.0, -28.6, -29.1, -29.7, -30.4, -31.0, -31.6, -32.3, -32.9, -33.5,
  -34.0, -34.5, -35.1, -35.5, -36.0, -36.5, -37.0, -37.5, -38.1, -38.7,
  -39.2, -39.8, -40.4, -41.0, -41.6, -42.2, -42.8, -43.4, -44.0, -44.5,
  -44.8, -44.3, -44.0, -43.6, -43.2, -43.5, -44.0, -44.6, -44.2, -44.8,
  -44.5, -44.9, -44.3, -43.8, -44.1, -43.6, -43.2, -43.5, -42.9, -42.4,
  -42.7, -42.0, -41.6, -41.9, -41.2, -40.7, -40.3, -40.8, -39.8, -39.2,
  -39.0, -38.6, -39.2, -38.8, -39.1, -39.7, -40.5, -41.3, -42.2, -43.0,
  -42.6, -41.8, -41.2, -41.5, -40.9, -41.0,
];
const CHANGE_NORESM1_ME = [
  0, -0.5, -0.8, -1.4, -1.7, -2.1, -2.6, -2.9, -3.4, -3.7,
  -4.0, -4.5, -4.7, -5.2, -5.6, -5.9, -6.3, -6.7, -7.1, -7.4,
  -7.7, -8.1, -8.4, -8.8, -9.2, -9.5, -9.9, -10.4, -10.7, -11.1,
  -11.5, -11.9, -12.3, -12.7, -13.2, -13.6, -14.0, -14.5, -14.9, -15.3,
  -15.7, -16.1, -16.6, -17.0, -17.4, -17.9, -18.3, -18.8, -19.2, -19.6,
  -20.0, -20.3, -20.6, -21.0, -21.2, -21.5, -21.9, -22.2, -22.6, -22.8,
  -23.0, -23.3, -23.6, -23.9, -24.2, -24.5, -24.8, -25.2, -25.5, -25.8,
  -26.0, -26.5, -27.0, -27.4, -27.9, -28.4, -28.9, -29.5, -30.0, -30.5,
  -31.0, -31.7, -32.4, -33.2, -34.0, -34.8, -35.6, -36.4, -37.1, -37.9,
  -38.5, -39.1, -39.6, -40.2, -40.7, -41.3, -41.9, -42.5, -43.1, -43.8,
  -44.4, -45.1, -45.8, -46.5, -47.4, -48.2, -49.1, -50.0, -50.9, -51.7,
  -52.5, -53.4, -54.3, -55.2, -56.1, -57.0, -57.9, -58.8, -59.7, -60.5,
  -60.7, -60.9, -60.6, -60.8, -61.2, -61.0, -61.3, -61.7, -61.5, -61.9,
  -62.0, -62.4, -62.8, -63.2, -63.5, -63.9, -64.4, -65.0, -65.2, -65.6,
  -65.8, -66.1, -66.6, -67.0, -67.4, -67.9, -68.3, -68.8, -69.5, -69.9,
  -70.4, -71.0, -70.6, -70.2, -69.7, -69.0,
];
const CHANGE_GCP = [
  0, -0.6, -1.3, -1.9, -2.4, -3.2, -3.9, -4.6, -5.1, -5.7,
  -6.0, -6.5, -6.8, -7.4, -7.7, -8.0, -8.5, -8.8, -9.2, -9.6,
  -9.7, -10.1, -10.5, -10.8, -11.0, -11.3, -11.6, -11.9, -12.3, -12.5,
  -12.9, -13.1, -13.5, -13.8, -14.2, -14.4, -14.8, -15.1, -15.5, -15.9,
  -16.2, -16.6, -17.0, -17.2, -17.7, -18.1, -18.4, -18.9, -19.3, -19.6,
  -20.2, -20.5, -21.0, -20.6, -21.1, -21.6, -22.0, -22.5, -22.7, -23.2,
  -23.6, -24.1, -24.4, -24.9, -25.0, -25.4, -25.9, -26.3, -26.8, -27.0,
  -27.4, -27.6, -28.1, -28.4, -28.8, -29.3, -29.6, -30.2, -30.6, -31.1,
  -31.5, -32.1, -32.5, -33.3, -33.9, -34.4, -34.8, -35.6, -37.0, -38.0,
  -38.8, -39.4, -40.1, -41.0, -41.8, -43.0, -44.1, -45.2, -46.0, -46.9,
  -47.7, -48.5, -49.3, -50.0, -50.6, -51.4, -52.1, -52.9, -53.4, -53.9,
  -54.7, -55.3, -55.9, -56.5, -57.1, -57.8, -58.3, -58.9, -59.5, -60.0,
  -59.7, -59.1, -58.5, -57.6, -56.6, -55.5, -54.5, -53.6, -52.7, -51.8,
  -50.9, -50.0, -49.2, -48.4, -47.6, -46.9, -46.2, -45.5, -44.6, -43.7,
  -42.8, -42.1, -41.2, -40.5, -39.7, -38.9, -37.9, -37.0, -35.8, -34.6,
  -33.5, -32.0, -30.8, -29.8, -29.0,
];

const UPTAKE_SERIES = [
  UPTAKE_BNU_ESM, UPTAKE_CANESM2, UPTAKE_CESM1_BGC, UPTAKE_FIO_ESM, UPTAKE_GFDL_ESM2G,
  UPTAKE_GFDL_ESM2M, UPTAKE_INMCM4, UPTAKE_IPSL_CM5A_LR, UPTAKE_MIROC_ESM, UPTAKE_MPI_ESM_LR,
  UPTAKE_MRI_ESM1, UPTAKE_NORESM1_ME, UPTAKE_GCP,
];
// GFDL models have no cumulative curve in panel (b)
const CHANGE_SERIES = [
  CHANGE_BNU_ESM, CHANGE_CANESM2, CHANGE_CESM1_BGC, CHANGE_FIO_ESM, null,
  null, CHANGE_INMCM4, CHANGE_IPSL_CM5A_LR, CHANGE_MIROC_ESM, CHANGE_MPI_ESM_LR,
  CHANGE_MRI_ESM1, CHANGE_NORESM1_ME, CHANGE_GCP,
];

const GCP_DASH = [17, 5, 3, 5];

type PanelCfg = {
  canvasLeft: number;
  canvasWidth: number;
  area: { left: number; top: number; right: number; bottom: number };
  yMin: number;
  yMax: number;
  yTicks: number[];
  fmt: (v: number) => string;
  title: string;
  titleX: number;
  ylabelMain: string;
  ylabelSup: string;
  ylabelX: number;
  zeroColor: string;
  zeroWidth: number;
  legend: boolean;
  series: (number[] | null)[];
};

const minus = (s: string) => s.replace("-", "\u2212");

const PANEL_A: PanelCfg = {
  canvasLeft: 0,
  canvasWidth: 650,
  area: { left: 93.3, top: 36, right: 479.3, bottom: 381.7 },
  yMin: -7.9,
  yMax: 10.85,
  yTicks: UPTAKE_TICKS,
  fmt: (v) => minus(v.toFixed(1)),
  title: "(a)  Land Carbon Uptake",
  titleX: 103.5,
  ylabelMain: "Pg C yr",
  ylabelSup: "\u22121",
  ylabelX: 32.5,
  zeroColor: "#808080",
  zeroWidth: 1.6,
  legend: true,
  series: UPTAKE_SERIES,
};

const PANEL_B: PanelCfg = {
  canvasLeft: 650,
  canvasWidth: 510,
  area: { left: 119, top: 36.7, right: 505.7, bottom: 381.7 },
  yMin: -135.9,
  yMax: 89.1,
  yTicks: CHANGE_TICKS,
  fmt: (v) => minus(String(v)),
  title: "(b)  Change in Land Carbon",
  titleX: 123.5,
  ylabelMain: "Pg C",
  ylabelSup: "",
  ylabelX: 55.5,
  zeroColor: "#3a3a3a",
  zeroWidth: 1.2,
  legend: false,
  series: CHANGE_SERIES,
};

const HEIGHT = 414;

function makeDecor(p: PanelCfg) {
  return {
    id: "decor",
    beforeDatasetsDraw(chart: any) {
      const { ctx, chartArea: a } = chart;
      const y0 = chart.scales.y.getPixelForValue(0);
      ctx.save();
      ctx.beginPath();
      ctx.strokeStyle = p.zeroColor;
      ctx.lineWidth = p.zeroWidth;
      ctx.moveTo(a.left, y0);
      ctx.lineTo(a.right, y0);
      ctx.stroke();
      ctx.restore();
    },
    afterDraw(chart: any) {
      const { ctx, chartArea: a } = chart;
      ctx.save();
      ctx.strokeStyle = "#262626";
      ctx.lineWidth = 1.2;
      ctx.strokeRect(a.left, a.top, a.right - a.left, a.bottom - a.top);

      // title (slightly widened to match reference proportions)
      ctx.fillStyle = "#000";
      ctx.textAlign = "left";
      ctx.textBaseline = "alphabetic";
      ctx.font = `20.5px ${FONT}`;
      ctx.save();
      ctx.translate(p.titleX, 27.3);
      ctx.scale(1.08, 1);
      ctx.fillText(p.title, 0, 0);
      ctx.restore();

      // y axis label (rotated)
      const cy = (a.top + a.bottom) / 2;
      ctx.font = `20px ${FONT}`;
      const wm = ctx.measureText(p.ylabelMain).width;
      ctx.font = `15px ${FONT}`;
      const ws = p.ylabelSup ? ctx.measureText(p.ylabelSup).width + 2 : 0;
      const total = wm + ws;
      ctx.save();
      ctx.translate(p.ylabelX, cy);
      ctx.rotate(-Math.PI / 2);
      ctx.font = `20px ${FONT}`;
      ctx.fillText(p.ylabelMain, -total / 2, 0);
      if (p.ylabelSup) {
        ctx.font = `15px ${FONT}`;
        ctx.fillText(p.ylabelSup, -total / 2 + wm + 2, -8);
      }
      ctx.restore();

      if (p.legend) {
        ctx.font = `14px ${FONT}`;
        MODEL_NAMES.forEach((name, i) => {
          const y = 55 + i * 20.97;
          const isGcp = i === MODEL_NAMES.length - 1;
          ctx.beginPath();
          ctx.strokeStyle = COLORS[i];
          ctx.lineWidth = isGcp ? 3 : 2.2;
          ctx.lineCap = "butt";
          ctx.setLineDash(isGcp ? GCP_DASH : []);
          ctx.moveTo(510, y);
          ctx.lineTo(541, y);
          ctx.stroke();
          ctx.setLineDash([]);
          ctx.fillStyle = "#000";
          ctx.fillText(name, 550.8, y + 5.5);
        });
      }
      ctx.restore();
    },
  };
}

function Panel({ cfg }: { cfg: PanelCfg }) {
  const ref = useRef<HTMLCanvasElement | null>(null);
  useEffect(() => {
    if (!ref.current) return;
    const n = MODEL_NAMES.length;
    const datasets: any[] = [];
    cfg.series.forEach((values, i) => {
      if (!values) return;
      const isGcp = i === n - 1;
      datasets.push({
        label: MODEL_NAMES[i],
        data: values.map((v, k) => ({ x: START_YEAR + k, y: v })),
        borderColor: COLORS[i],
        backgroundColor: COLORS[i],
        borderWidth: isGcp ? 3 : 2.2,
        borderDash: isGcp ? GCP_DASH : [],
        borderCapStyle: "butt",
        borderJoinStyle: "round",
        pointRadius: 0,
        pointHoverRadius: 0,
        tension: 0,
        fill: false,
        order: n - 1 - i,
      });
    });
    const tickFont = { family: FONT, size: 15 };
    const grid = {
      display: true,
      drawOnChartArea: false,
      drawTicks: true,
      tickLength: 6,
      color: "#262626",
      lineWidth: 1.2,
    };
    const chart = new Chart(ref.current, {
      type: "line",
      data: { datasets },
      options: {
        responsive: false,
        animation: false,
        events: [],
        layout: {
          padding: {
            left: 0,
            top: cfg.area.top,
            right: cfg.canvasWidth - cfg.area.right,
            bottom: 0,
          },
        },
        plugins: {
          legend: { display: false },
          title: { display: false },
          tooltip: { enabled: false },
        },
        scales: {
          x: {
            type: "linear",
            min: 1842.25,
            max: 2012.75,
            afterBuildTicks: (s: any) => {
              s.ticks = X_TICKS.map((v) => ({ value: v }));
            },
            afterFit: (s: any) => {
              s.height = HEIGHT - cfg.area.bottom;
            },
            ticks: {
              callback: (v: any) => String(v),
              font: tickFont,
              color: "#000",
              padding: 6,
              maxRotation: 0,
              autoSkip: false,
            },
            grid,
            border: { display: false },
          },
          y: {
            type: "linear",
            min: cfg.yMin,
            max: cfg.yMax,
            afterBuildTicks: (s: any) => {
              s.ticks = cfg.yTicks.map((v) => ({ value: v }));
            },
            afterFit: (s: any) => {
              s.width = cfg.area.left;
            },
            ticks: {
              callback: (v: any) => cfg.fmt(Number(v)),
              font: tickFont,
              color: "#000",
              padding: 5.5,
              autoSkip: false,
            },
            grid,
            border: { display: false },
          },
        },
      } as any,
      plugins: [makeDecor(cfg)],
    });
    return () => chart.destroy();
  }, [cfg]);
  return (
    <canvas
      ref={ref}
      width={cfg.canvasWidth}
      height={HEIGHT}
      style={{
        position: "absolute",
        left: cfg.canvasLeft,
        top: 0,
        width: cfg.canvasWidth,
        height: HEIGHT,
      }}
    />
  );
}

export default function App() {
  return (
    <div
      style={{
        position: "fixed",
        left: 0,
        top: 0,
        width: 1160,
        height: HEIGHT,
        background: "#fff",
        overflow: "hidden",
      }}
    >
      <Panel cfg={PANEL_A} />
      <Panel cfg={PANEL_B} />
    </div>
  );
}
